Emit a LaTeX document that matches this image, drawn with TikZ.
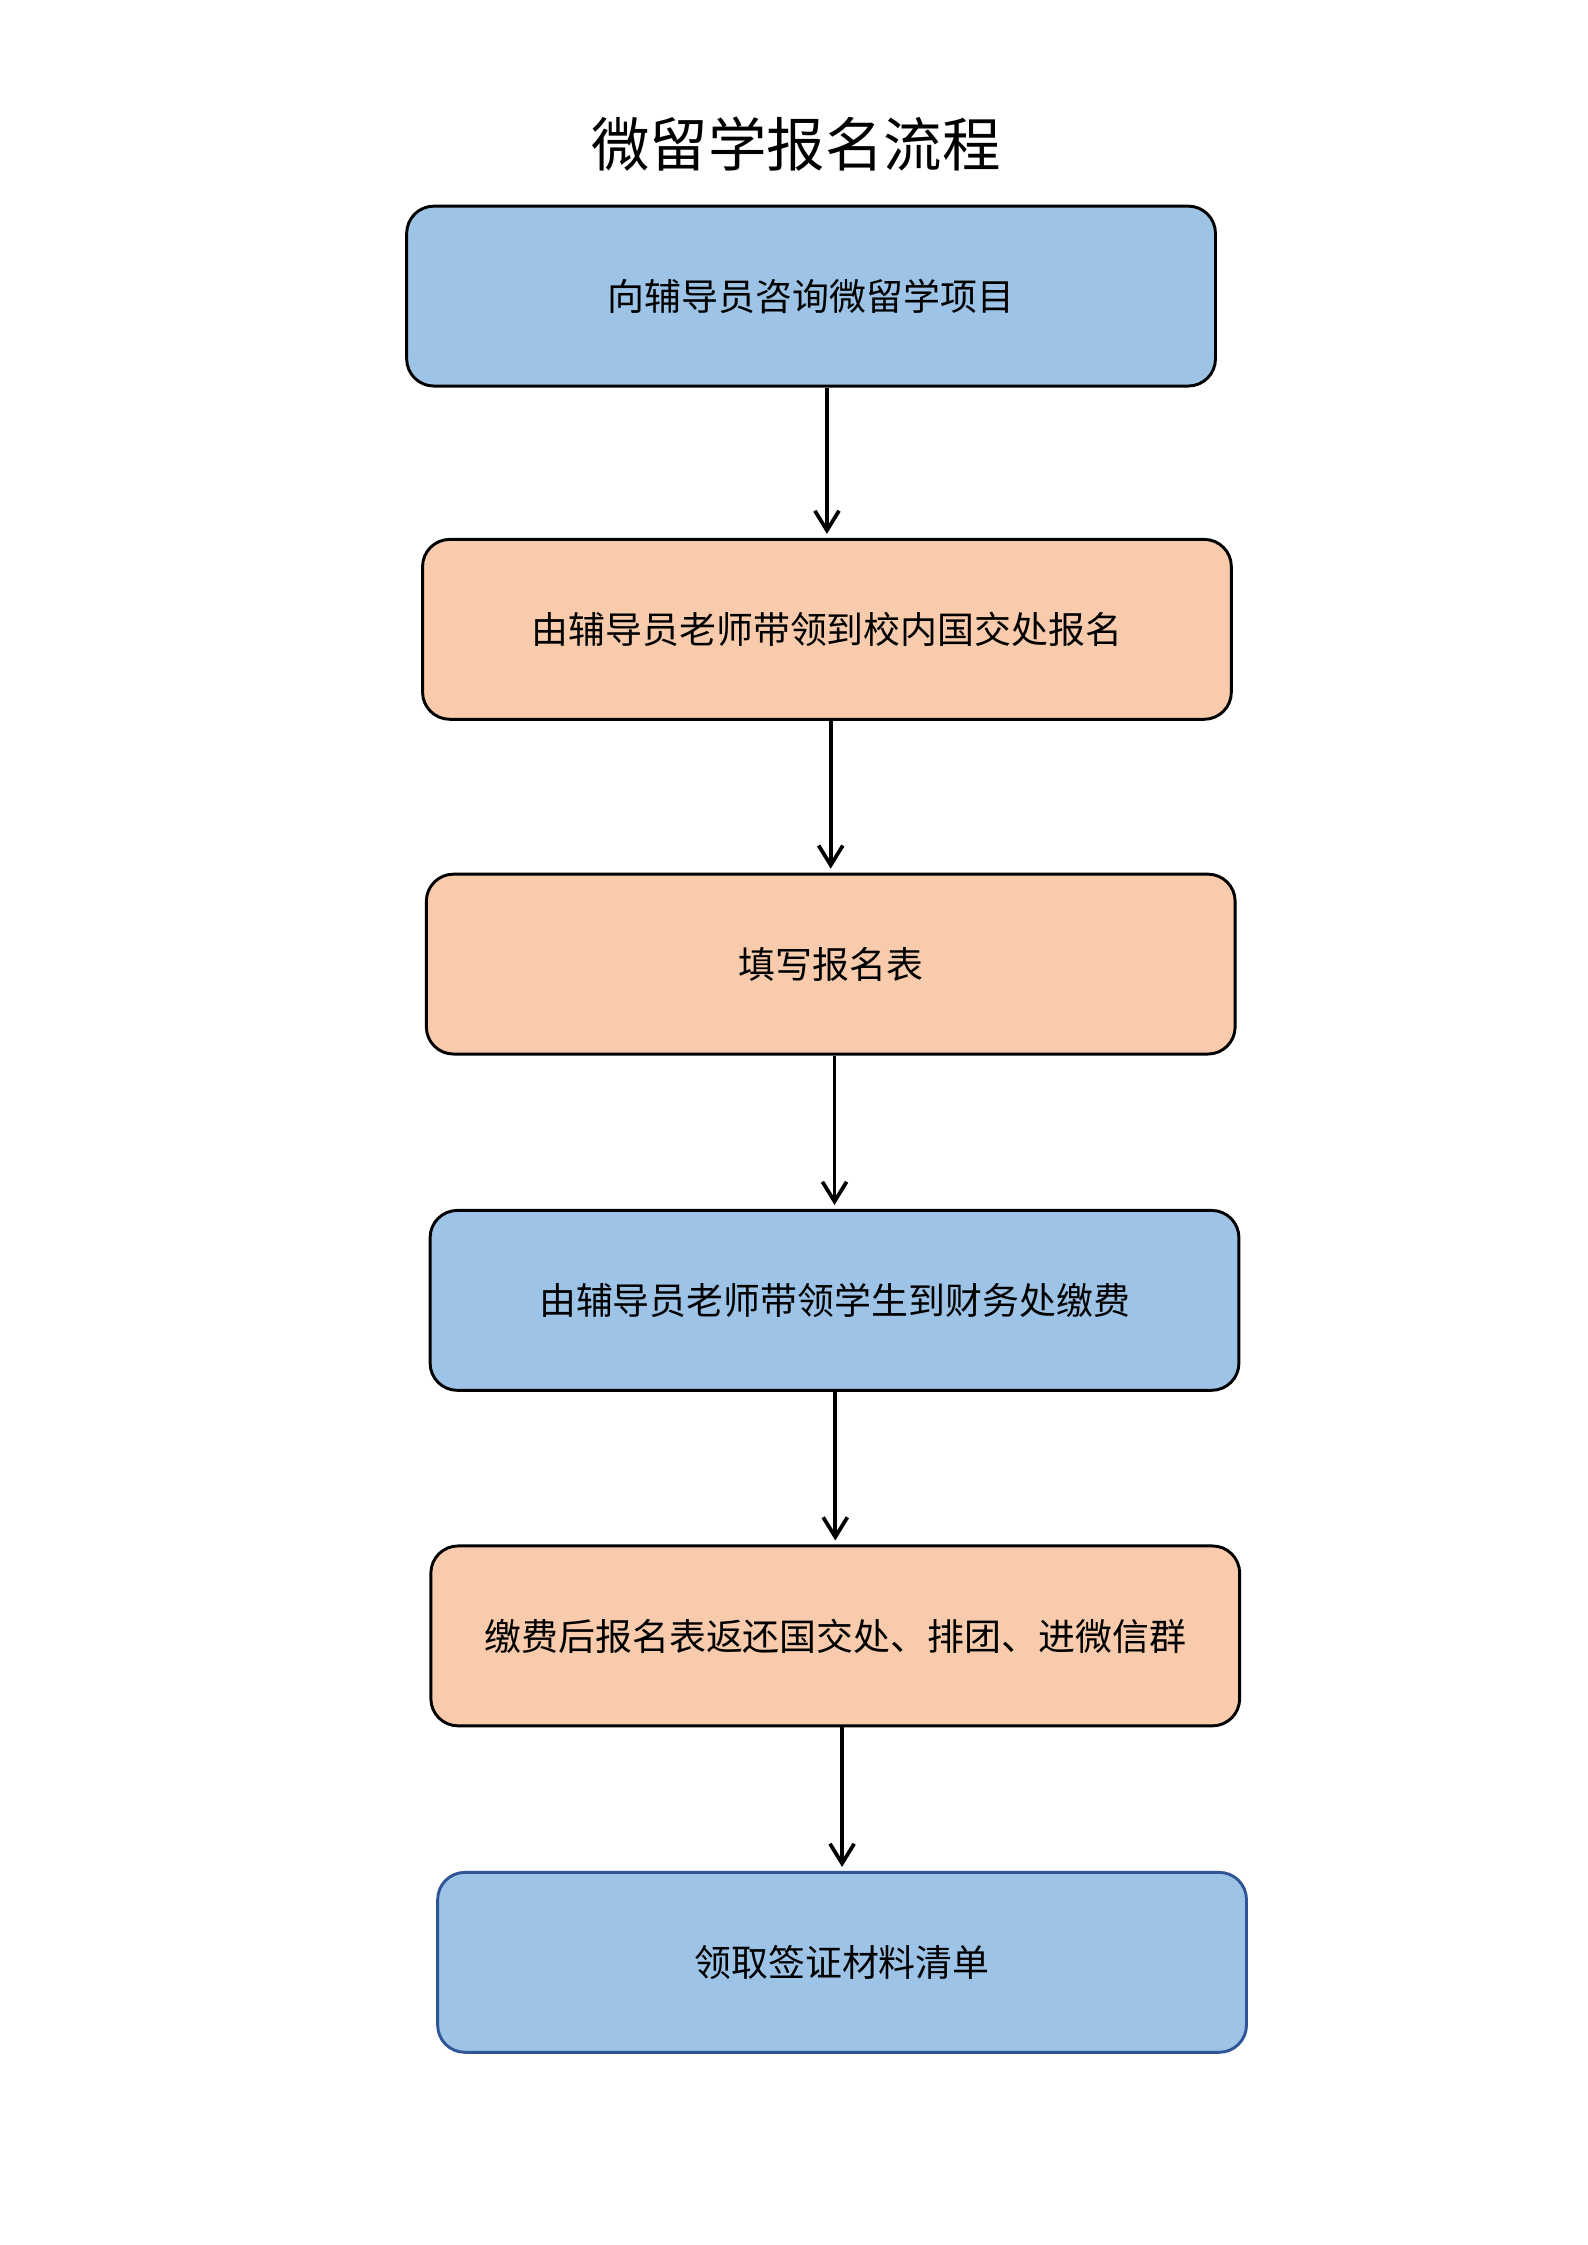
\documentclass[tikz,border=0pt]{standalone}
\usepackage{fontspec}
\setmainfont{Noto Sans CJK SC}
\usetikzlibrary{arrows.meta,positioning}
\definecolor{boxblue}{HTML}{9DC3E6}
\definecolor{boxorange}{HTML}{F8CBAD}
\definecolor{bluedraw}{HTML}{2F5597}
\tikzset{
    mybox/.style={rectangle,rounded corners=0.36cm,draw=black,line width=1.1pt, minimum width=10.70cm, minimum height=2.38cm, inner sep=0pt, text centered, font=\fontsize{13.9pt}{16pt}\selectfont},
    pil/.style={>={Straight Barb[length=2.6mm,width=3.2mm]}, ->, line width=1.4pt, shorten <=1.5pt, shorten >=1.5pt}
}

\begin{document}
\begin{tikzpicture}
    \useasboundingbox (0,0) rectangle (21,-29.7);
    \node[font=\fontsize{22pt}{26pt}\selectfont] (title) at (10.53,-1.905) {微留学报名流程};
    \node[mybox, fill=boxblue] (consult) at (10.73,-3.917)
      {向辅导员咨询微留学项目};
    \node[mybox, fill=boxorange, below=1.99cm of consult, xshift=0.21cm] (signup)
      {由辅导员老师带领到校内国交处报名}
      edge[pil, <-, shorten >=0pt] (consult.south -| signup.north);
    \node[mybox, fill=boxorange, below=2.01cm of signup, xshift=0.05cm] (form)
      {填写报名表}
      edge[pil, <-, shorten >=0pt] (signup.south -| form.north);
    \node[mybox, fill=boxblue, below=2.03cm of form, xshift=0.05cm] (pay)
      {由辅导员老师带领学生到财务处缴费}
      edge[pil, <-, shorten >=0pt] (form.south -| pay.north);
    \node[mybox, fill=boxorange, below=2.02cm of pay, xshift=0.01cm] (group)
      {缴费后报名表返还国交处、排团、进微信群}
      edge[pil, <-, shorten >=0pt] (pay.south -| group.north);
    \node[mybox, fill=boxblue, draw=bluedraw, below=1.90cm of group, xshift=0.09cm] (visa)
      {领取签证材料清单}
      edge[pil, <-, shorten >=0pt] (group.south -| visa.north);
\end{tikzpicture}
\end{document}
